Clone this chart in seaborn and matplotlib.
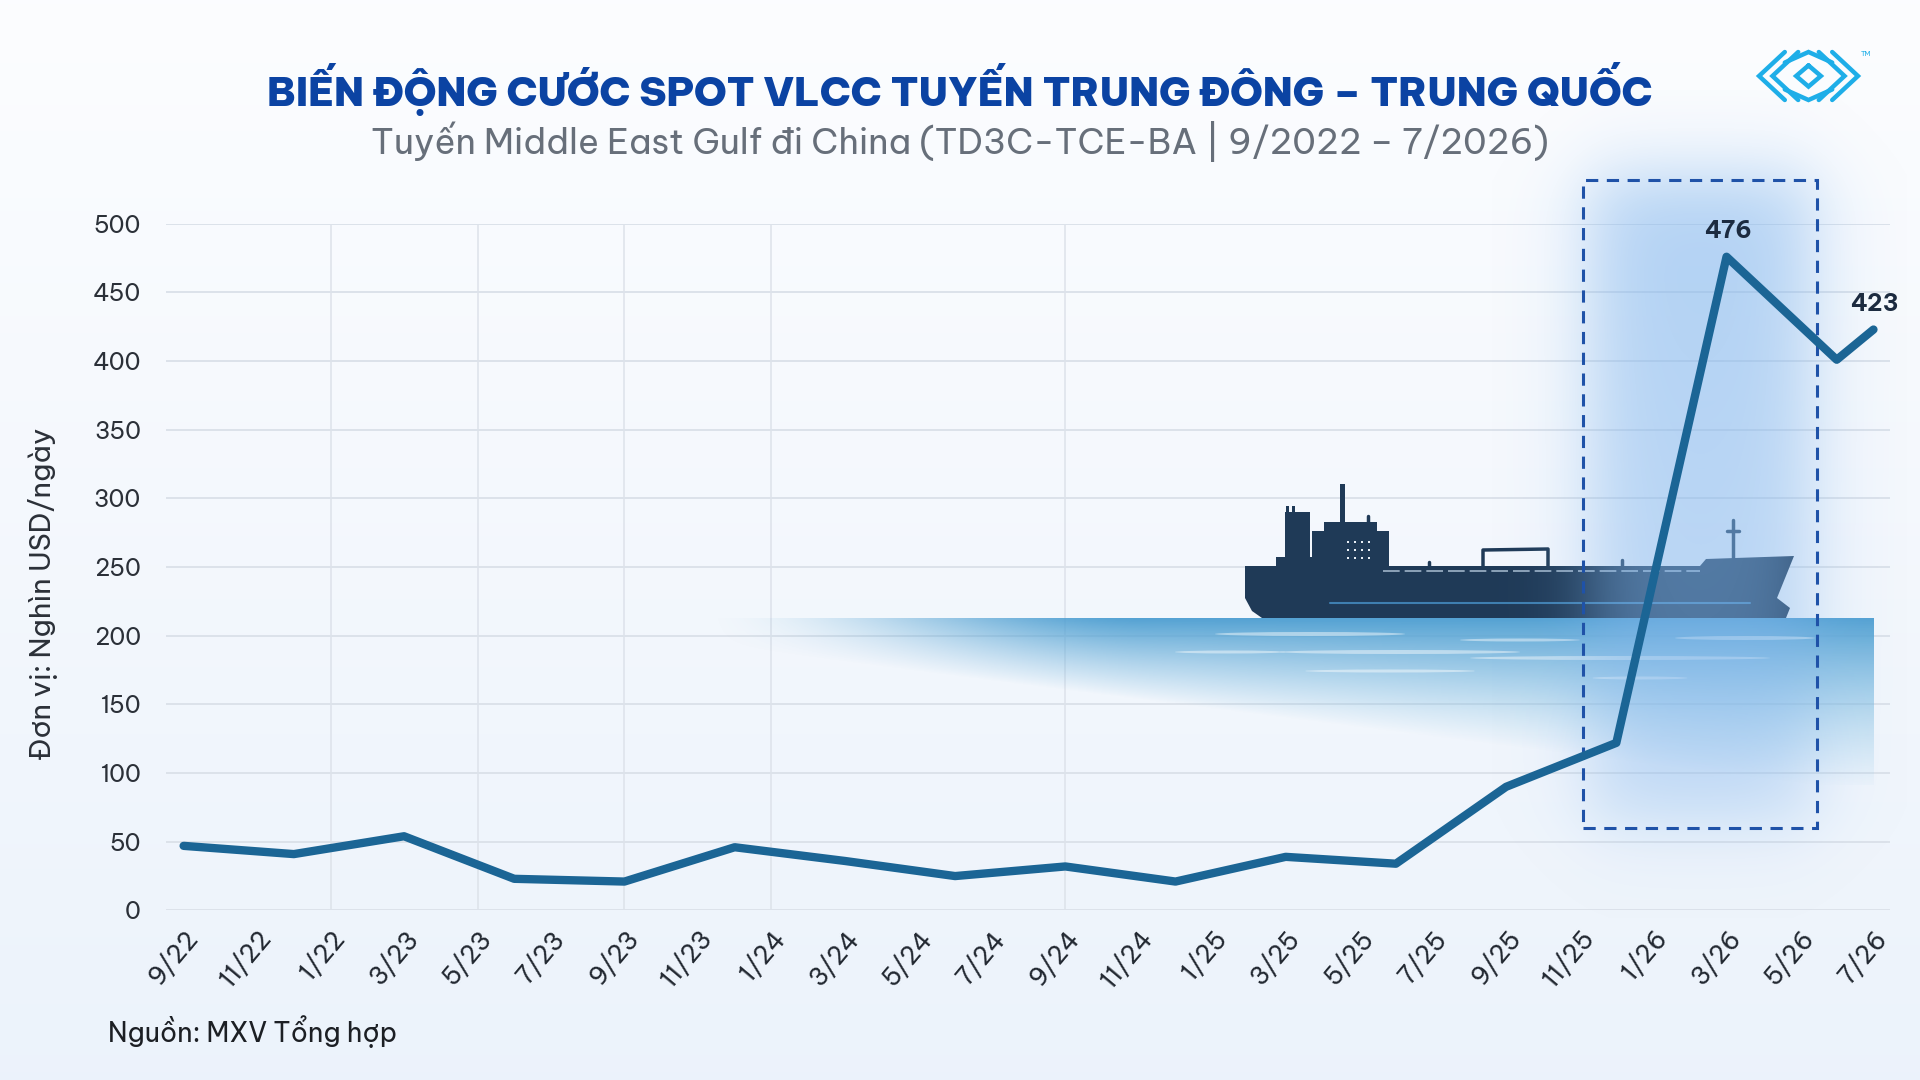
import numpy as np
import pandas as pd
import matplotlib
matplotlib.use("Agg")
import matplotlib.pyplot as plt
import matplotlib.transforms as mtransforms
from matplotlib.patches import Rectangle, Polygon, Ellipse
import seaborn as sns

# ---------------- data ----------------
tick_labels = ["9/22", "11/22", "1/22", "3/23", "5/23", "7/23", "9/23", "11/23",
               "1/24", "3/24", "5/24", "7/24", "9/24", "11/24", "1/25", "3/25",
               "5/25", "7/25", "9/25", "11/25", "1/26", "3/26", "5/26", "7/26"]
months = [0, 3, 6, 9, 12, 15, 18, 21, 24, 27, 30, 33, 36, 39, 42, 45, 46]   # months since 9/2022
rates = [47, 41, 54, 23, 21, 46, 36, 25, 32, 21, 39, 34, 90, 122, 476, 401, 423]
labelled_points = [42, 46]
highlight_months = [38.1, 44.45]
highlight_values = [60, 532]

title = "BIẾN ĐỘNG CƯỚC SPOT VLCC TUYẾN TRUNG ĐÔNG – TRUNG QUỐC"
subtitle = "Tuyến Middle East Gulf đi China (TD3C-TCE-BA | 9/2022 – 7/2026)"
ylabel = "Đơn vị: Nghìn USD/ngày"
source = "Nguồn: MXV Tổng hợp"

# ---------------- setup ----------------
W, H = 1920, 1080
sns.set_theme(style="white")
plt.rcParams['font.family'] = ['Be Vietnam Pro', 'DejaVu Sans']

fig = plt.figure(figsize=(19.2, 10.8), dpi=100)

# background gradient
bg = fig.add_axes([0, 0, 1, 1], zorder=-10)
g = np.linspace(0, 1, 256)[:, None, None]
top_c = np.array([0.988, 0.992, 1.0])
bot_c = np.array([0.925, 0.952, 0.985])
bg.imshow(top_c * (1 - g) + bot_c * g, aspect='auto', extent=[0, 1, 0, 1])
bg.axis('off')

AX_L, AX_R, AX_B, AX_T = 166, 1890, 910.4, 223.8
ax = fig.add_axes([AX_L / W, 1 - AX_B / H, (AX_R - AX_L) / W, (AX_B - AX_T) / H])
ax.patch.set_alpha(0)
XL = (-0.48, 46.45)
YL = (0, 500)

pix = mtransforms.Affine2D().scale(1 / W, -1 / H).translate(0, 1) + fig.transFigure


def px2data(px, py):
    x = XL[0] + (px - AX_L) / (AX_R - AX_L) * (XL[1] - XL[0])
    y = YL[0] + (AX_B - py) / (AX_B - AX_T) * (YL[1] - YL[0])
    return x, y


# ---------------- line ----------------
df = pd.DataFrame({"month": months, "rate": rates})
sns.lineplot(data=df, x="month", y="rate", ax=ax, color="#1b6595",
             linewidth=6, zorder=6, solid_joinstyle='round', solid_capstyle='round')

# grid
ax.set_yticks(range(0, 501, 50))
ax.grid(axis='y', color='#dce2ea', lw=1.4, zorder=0)
ax.grid(axis='x', visible=False)
for m in [4, 8, 12, 16, 24]:
    ax.axvline(m, ymin=0, ymax=1, color='#dde2ea', lw=1.1, zorder=0)

# ---------------- water ----------------
wx0, wx1, wy0, wy1 = 700, 1874, 618, 785
nx, ny = 600, 120
xs = np.linspace(wx0, wx1, nx)
ys = np.linspace(wy0, wy1, ny)
XX, YY = np.meshgrid(xs, ys)
t = (XX - wx0) / (wx1 - wx0)
sx = np.clip((XX - wx0) / 450, 0, 1)
sx = sx * sx * (3 - 2 * sx)
depth = 25 + 150 * t
vy = np.clip(1 - (YY - wy0) / depth, 0, 1) ** 0.9
alpha = sx * vy * 0.95
c_top = np.array([0.30, 0.62, 0.82])
c_bot = np.array([0.62, 0.82, 0.93])
fy = ((YY - wy0) / (wy1 - wy0))[..., None]
rgb = c_top * (1 - fy) + c_bot * fy
water = np.dstack([rgb, alpha])
ex0, ey0 = px2data(wx0, wy1)
ex1, ey1 = px2data(wx1, wy0)
ax.imshow(water, extent=[ex0, ex1, ey0, ey1], aspect='auto', origin='upper',
          zorder=1, clip_on=False, interpolation='bilinear')

streaks = [(1310, 634, 190, 4), (1400, 652, 240, 4), (1390, 671, 170, 3),
           (1745, 638, 140, 4), (1620, 658, 300, 4), (1640, 678, 95, 3),
           (1520, 640, 120, 3), (1230, 652, 110, 3)]
for cx, cy, w, h in streaks:
    ax.add_patch(Ellipse((cx, cy), w, h, transform=pix, color='white', alpha=0.45,
                         lw=0, zorder=1.2, clip_on=False))

# ---------------- ship ----------------
ship_c = '#1f3a57'
hull = [(1245, 566), (1700, 566), (1706, 559), (1794, 556), (1777, 598), (1790, 608),
        (1786, 618), (1262, 618), (1252, 611), (1245, 598)]
ax.add_patch(Polygon(hull, closed=True, transform=pix, color=ship_c, lw=0, zorder=1.5, clip_on=False))
blocks = [(1276, 557, 36, 12), (1285, 512, 25, 50), (1312, 531, 77, 36),
          (1324, 522, 53, 10), (1340, 484, 5, 40), (1286, 506, 3, 8), (1292, 506, 3, 8)]
for bx, by, bw, bh in blocks:
    ax.add_patch(Rectangle((bx, by), bw, bh, transform=pix, color=ship_c, lw=0,
                           zorder=1.5, clip_on=False))
for seg in [[(1483, 568), (1483, 550), (1548, 549), (1548, 568)],
            [(1733, 560), (1733, 520)], [(1727, 531), (1739, 531)],
            [(1429, 568), (1429, 562)], [(1622, 568), (1622, 560)],
            [(1368, 530), (1368, 516)]]:
    sxs, sys_ = zip(*seg)
    ax.plot(sxs, sys_, transform=pix, color=ship_c, lw=2.5, zorder=1.5, clip_on=False)
for wy in [541, 549, 557]:
    for wxx in [1347, 1354, 1361, 1368]:
        ax.add_patch(Rectangle((wxx, wy), 2, 2, transform=pix, color='#e8eef5', lw=0,
                               zorder=1.6, clip_on=False))
ax.plot([1330, 1750], [603, 603], transform=pix, color='#3f7fb0', lw=1.5, zorder=1.6,
        clip_on=False)
ax.plot([1383, 1700], [571, 571], transform=pix, color='#9fb4c8', lw=1.2, zorder=1.6,
        clip_on=False, ls=(0, (10, 3)))

# ---------------- highlight box ----------------
margin = 90
gx = np.linspace(1582 - margin, 1817 + margin, 240)
gy = np.linspace(180 - margin, 828 + margin, 460)
GX, GY = np.meshgrid(gx, gy)


def soft(v, a, b, s):
    return 1 / (1 + np.exp(-(v - a) / s)) * 1 / (1 + np.exp((v - b) / s))


ga = soft(GX, 1590, 1812, 22) * soft(GY, 175, 822, 22)
ga = ga * (0.62 - 0.17 * np.clip((GY - 180) / 648, 0, 1))
gcol = np.array([0.52, 0.72, 0.93])
glow = np.dstack([np.broadcast_to(gcol, GX.shape + (3,)), ga])
gx0, gy0 = px2data(gx[0], gy[-1])
gx1, gy1 = px2data(gx[-1], gy[0])
ax.imshow(glow, extent=[gx0, gx1, gy0, gy1], aspect='auto', origin='upper',
          zorder=2, clip_on=False, interpolation='bilinear')
ax.add_patch(Rectangle((highlight_months[0], highlight_values[0]),
                       highlight_months[1] - highlight_months[0],
                       highlight_values[1] - highlight_values[0],
                       fill=False, edgecolor='#1f52a8', lw=2.2, ls=(0, (4, 2.8)),
                       zorder=3, clip_on=False))

# ---------------- annotations ----------------
for m in labelled_points:
    v = rates[months.index(m)]
    ax.annotate(str(v), xy=(m, v), xytext=(1, 18), textcoords='offset points',
                ha='center', va='center', fontsize=17, fontweight='bold', color='#1c2b40',
                zorder=7)

# ---------------- axes styling ----------------
ax.set_xlim(*XL)
ax.set_ylim(*YL)
ax.set_xticks(range(0, 47, 2))
ax.set_xticklabels(tick_labels, rotation=50, ha='right', rotation_mode='anchor',
                   fontsize=18, color='#222831')
ax.tick_params(axis='y', labelsize=17, labelcolor='#2b3038', length=0, pad=18)
ax.tick_params(axis='x', length=0, pad=11)
ax.set_xlabel('')
ax.set_ylabel('')
for s in ax.spines.values():
    s.set_visible(False)

# ---------------- text ----------------
fig.text(0.5, 1 - 89 / H, title, ha='center', va='center', fontsize=28.4,
         fontweight=900, color='#0b43a3')
fig.text(0.5, 1 - 141 / H, subtitle, ha='center', va='center', fontsize=25.3,
         color='#676f7a')
fig.text(43 / W, 1 - 594 / H, ylabel, rotation=90, ha='center', va='center',
         fontsize=20.4, color='#2b3038')
fig.text(108 / W, 1 - 1032 / H, source, ha='left', va='center', fontsize=19.2,
         color='#1c1f24')

# ---------------- logo ----------------
def lp(u, v):
    return (1757 + u * 103, 52 + v * 48)


logo_paths = [
    [(0.27, 0.0), (0.02, 0.5), (0.27, 1.0)],
    [(0.40, 0.0), (0.15, 0.5), (0.40, 1.0)],
    [(0.27, 0.22), (0.50, 0.0), (0.73, 0.22)],
    [(0.50, 0.28), (0.38, 0.5), (0.50, 0.72), (0.62, 0.5), (0.50, 0.28)],
    [(0.27, 0.78), (0.50, 1.0), (0.73, 0.78)],
    [(0.60, 0.0), (0.85, 0.5), (0.60, 1.0)],
    [(0.73, 0.0), (0.98, 0.5), (0.73, 1.0)],
]
for p in logo_paths:
    pts = [lp(u, v) for u, v in p]
    xs_, ys_ = zip(*pts)
    ax.plot(xs_, ys_, transform=pix, color='#1eaee8', lw=3.2, zorder=7, clip_on=False,
            solid_joinstyle='miter')
fig.text(1866 / W, 1 - 54 / H, "TM", fontsize=5, color='#1eaee8', ha='center', va='center')

fig.savefig("out.png", dpi=100)
